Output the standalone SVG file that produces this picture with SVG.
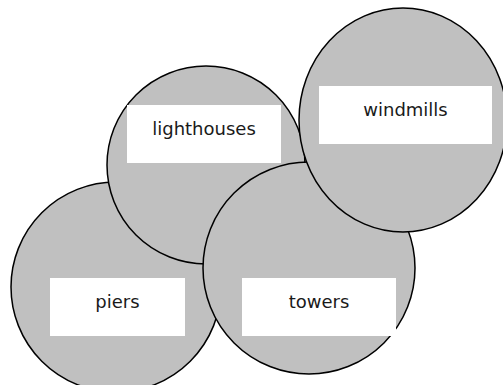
<svg xmlns="http://www.w3.org/2000/svg" width="503" height="385" viewBox="0 0 503 385">
<style>
.c{fill:#c0c0c0;stroke:#000;stroke-width:1.5}
.b{fill:#fff;stroke:none}
.t{font-family:"DejaVu Sans",sans-serif;font-size:18px;fill:#1a1a1a;text-anchor:middle}
</style>
<rect width="503" height="385" fill="#fff"/>
<g id="connectors"/>
<g id="piers-circle"><circle class="c" cx="116" cy="287" r="105"/></g>
<g id="lighthouses-circle"><circle class="c" cx="206" cy="165" r="99"/></g>
<g id="towers-circle"><circle class="c" cx="309" cy="268" r="106"/></g>
<g id="windmills-circle"><ellipse class="c" cx="403" cy="120" rx="104" ry="112"/></g>
<g id="lighthouses"><rect class="b" x="127" y="105" width="154" height="58"/><text class="t" x="204" y="135">lighthouses</text></g>
<g id="windmills"><rect class="b" x="319" y="86" width="173" height="58"/><text class="t" x="405.5" y="116">windmills</text></g>
<g id="piers"><rect class="b" x="50" y="278" width="135" height="58"/><text class="t" x="117.5" y="308">piers</text></g>
<g id="towers"><rect class="b" x="242" y="278" width="154" height="58"/><text class="t" x="319" y="308">towers</text></g>
</svg>
